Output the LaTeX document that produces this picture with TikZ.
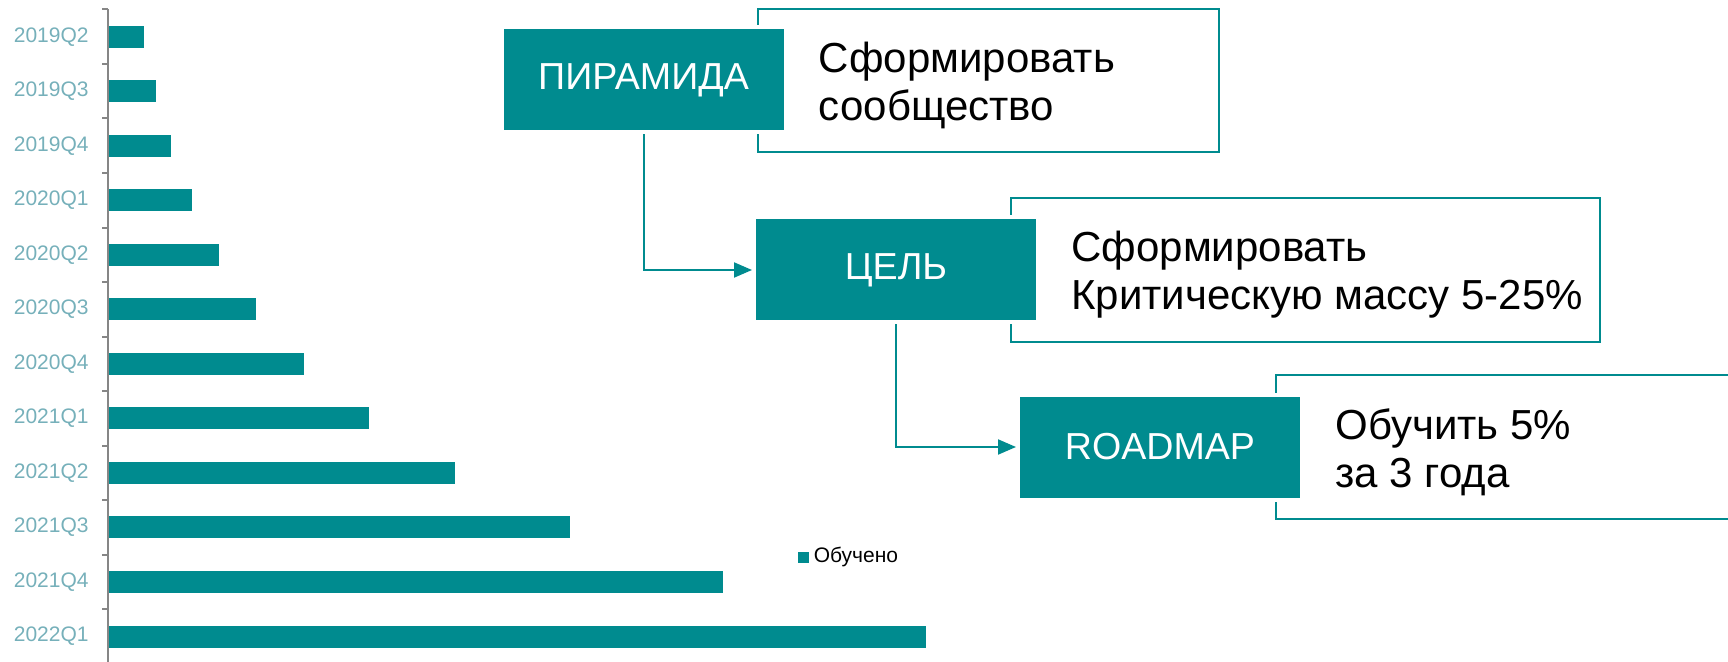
\documentclass[tikz,border=0pt]{standalone}
\usepackage{fontspec}
\setmainfont{Liberation Sans}
\usetikzlibrary{positioning,arrows.meta}
\definecolor{barteal}{RGB}{0,139,143}
\definecolor{lblteal}{RGB}{118,176,186}
\definecolor{axisgrey}{RGB}{134,134,134}

\begin{document}
\begin{tikzpicture}[x=0.5pt, y=-0.5pt,
stage/.style={fill=barteal, draw=white, line width=2pt, text=white, minimum width=142pt, minimum height=52.5pt, inner sep=0pt, font=\fontsize{18.8}{22}\selectfont},
frame/.style={draw=barteal, line width=1.2pt},
note/.style={align=left, inner sep=0pt, yshift=-2.5pt, font=\fontsize{21}{24}\selectfont},
quarter/.style={anchor=east, inner sep=0pt, text=lblteal, font=\fontsize{10.5}{12}\selectfont},
link/.style={draw=barteal, line width=1pt, -{Triangle[length=9pt, width=7.5pt]}}]
\useasboundingbox (0,0) rectangle (1728,662);
\clip (0,0) rectangle (1728,662);
% chart
\draw[axisgrey, line width=1pt] (108,9.4) -- (108,670);
\foreach \q/\barlen [count=\i from 0] in {2019Q2/144, 2019Q3/156, 2019Q4/171, 2020Q1/192,
    2020Q2/219, 2020Q3/256, 2020Q4/304, 2021Q1/369, 2021Q2/455, 2021Q3/570, 2021Q4/723, 2022Q1/926}{
  \draw[axisgrey, line width=1pt] (102,{9.4+\i*54.53}) -- (108,{9.4+\i*54.53});
  \fill[barteal] (109,{25.7+\i*54.53}) rectangle (\barlen,{47.7+\i*54.53});
  \node[quarter] (q\i) at (89,{36.7+\i*54.53}) {\q};
}
\node[fill=barteal, minimum size=5.5pt, inner sep=0pt] (key) at (803.5,557) {};
\node[right=2pt of key, inner sep=0pt, font=\fontsize{10.5}{12}\selectfont] (keytext) {Обучено};
% frames
\draw[frame] (758,9) rectangle (1219,152);
\draw[frame] (1011,198) rectangle (1600,342);
\draw[frame] (1276,375) rectangle (1760,519);
% stages
\node[stage] (pyr) at (643.5,80) {ПИРАМИДА};
\node[stage] (goal) at (896,270) {ЦЕЛЬ};
\node[stage] (road) at (1160,447) {ROADMAP};
\node[note, right=15.5pt of pyr] (pyrnote) {Сформировать\\сообщество};
\node[note, right=15.5pt of goal] (goalnote) {Сформировать\\Критическую массу 5-25\%};
\node[note, right=15.5pt of road] (roadnote) {Обучить 5\%\\за 3 года};
\draw[link] (pyr.south) |- (goal.west);
\draw[link] (goal.south) |- (road.west);
\end{tikzpicture}
\end{document}
